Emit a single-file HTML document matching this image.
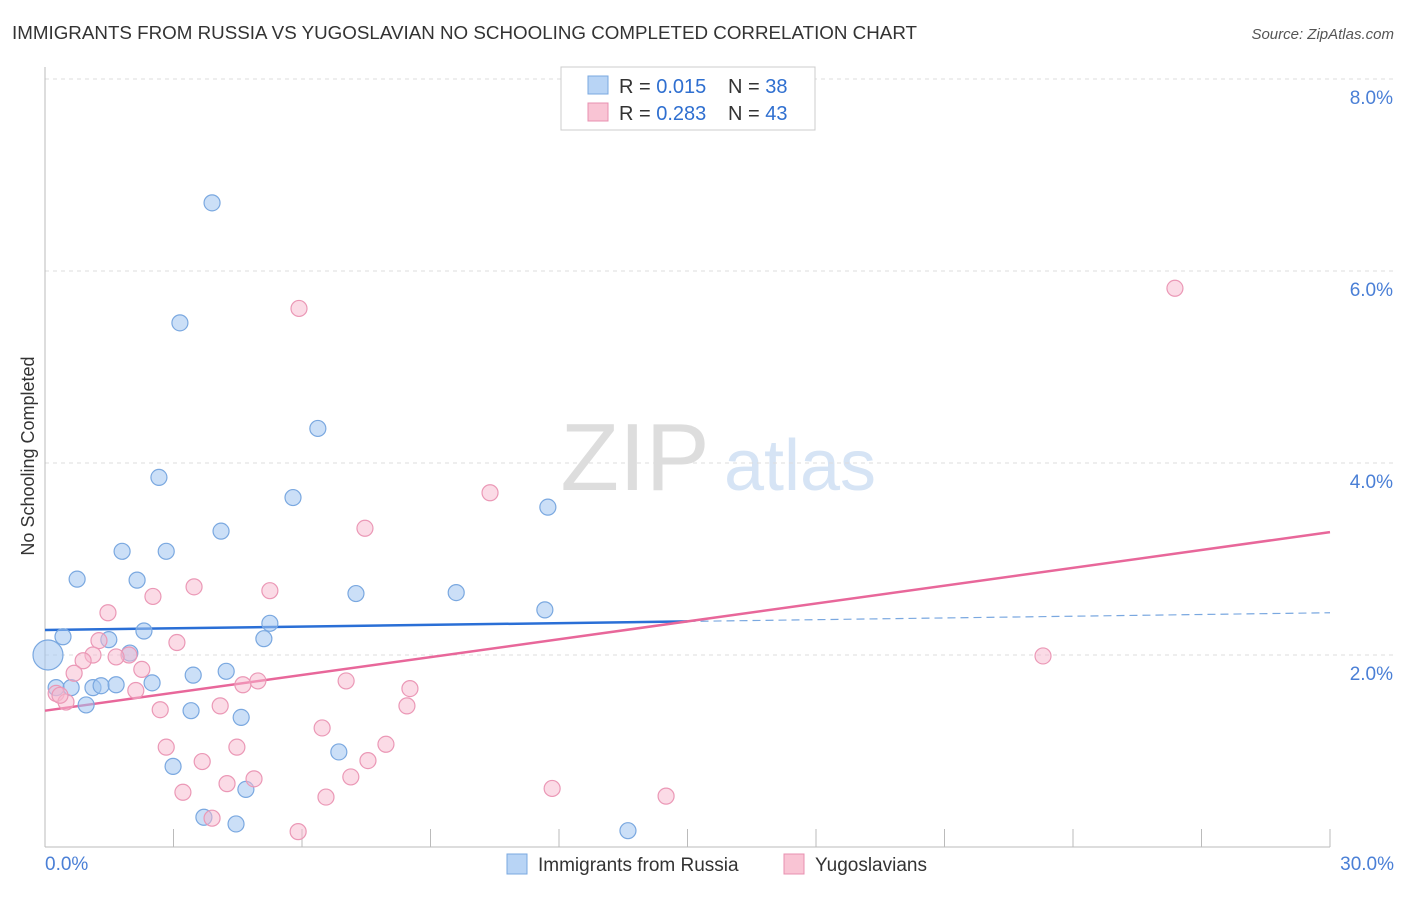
<!DOCTYPE html>
<html><head><meta charset="utf-8"><style>
body{margin:0;background:#fff;font-family:"Liberation Sans",sans-serif;}
svg text{font-family:"Liberation Sans",sans-serif;}
</style></head><body>
<svg id="chart" width="1406" height="892">
<text x="12" y="39" font-size="18" fill="#333" textLength="905" lengthAdjust="spacingAndGlyphs">IMMIGRANTS FROM RUSSIA VS YUGOSLAVIAN NO SCHOOLING COMPLETED CORRELATION CHART</text>
<text x="1394" y="39" font-size="15" fill="#555" font-style="italic" text-anchor="end">Source: ZipAtlas.com</text>
<text x="34" y="456" font-size="18" fill="#333" text-anchor="middle" transform="rotate(-90 34 456)">No Schooling Completed</text>
<g><text x="635" y="490" font-size="96" fill="#ddd" font-family="Liberation Serif" text-anchor="middle">ZIP</text><text x="800" y="490" font-size="72" fill="#d6e4f5" text-anchor="middle">atlas</text></g>
<g id="grid"></g><g id="axes"></g><g id="trend"></g><g id="pts"></g>
<g>
<rect x="561" y="67" width="254" height="63" fill="#fff" stroke="#ccc"/>
<rect x="588" y="76" width="20" height="18" fill="#b8d4f5" stroke="#7aa8e0"/>
<rect x="588" y="103" width="20" height="18" fill="#f9c4d4" stroke="#e890b0"/>
<text x="619" y="93" font-size="20" fill="#333">R = <tspan fill="#2f6fd0">0.015</tspan><tspan x="728">N = </tspan><tspan fill="#2f6fd0">38</tspan></text>
<text x="619" y="120" font-size="20" fill="#333">R = <tspan fill="#2f6fd0">0.283</tspan><tspan x="728">N = </tspan><tspan fill="#2f6fd0">43</tspan></text>
</g>
<g>
<rect x="507" y="854" width="20" height="20" fill="#b8d4f5" stroke="#7aa8e0"/>
<text x="538" y="871" font-size="19" fill="#333">Immigrants from Russia</text>
<rect x="784" y="854" width="20" height="20" fill="#f9c4d4" stroke="#e890b0"/>
<text x="815" y="871" font-size="19" fill="#333">Yugoslavians</text>
</g>
</svg>
<script>
const yTicks=[2,4,6,8];
const yTickLabels=["2.0%","4.0%","6.0%","8.0%"];
const xEndLabels=["0.0%","30.0%"];
const russiaX=[3.90,3.15,6.37,2.66,5.79,11.74,4.11,1.80,2.83,0.75,2.15,7.26,9.60,11.67,5.25,2.31,0.42,5.11,1.49,1.98,0.07,4.23,3.46,2.50,0.26,0.61,1.12,1.31,1.66,0.96,3.41,4.58,6.86,2.99,4.69,3.71,4.46,13.61];
const russiaY=[6.71,5.46,4.36,3.85,3.64,3.54,3.29,3.08,3.08,2.79,2.78,2.64,2.65,2.47,2.33,2.25,2.19,2.17,2.16,2.02,2.00,1.83,1.79,1.71,1.66,1.66,1.66,1.68,1.69,1.48,1.42,1.35,0.99,0.84,0.60,0.31,0.24,0.17];
const yugoX=[26.38,5.93,10.39,7.47,3.48,5.25,2.52,1.47,1.26,3.08,1.96,1.12,0.89,1.66,2.26,0.68,4.97,4.62,7.03,8.52,2.12,0.26,0.49,4.09,8.45,2.69,6.47,2.83,4.48,7.96,3.67,7.54,7.14,4.88,4.25,3.22,11.84,14.50,6.56,3.90,5.91,23.30,0.35];
const yugoY=[5.82,5.61,3.69,3.32,2.71,2.67,2.61,2.44,2.15,2.13,2.00,2.00,1.94,1.98,1.85,1.81,1.73,1.69,1.73,1.65,1.63,1.60,1.51,1.47,1.47,1.43,1.24,1.04,1.04,1.07,0.89,0.90,0.73,0.71,0.66,0.57,0.61,0.53,0.52,0.30,0.16,1.99,1.58];
const russiaTrend=[2.26,2.44];
const yugoTrend=[1.42,3.28];
const NS="http://www.w3.org/2000/svg";
const X=v=>45+v*(1285/30), Y=v=>847-v*96;
function mk(tag,attrs,parent){const e=document.createElementNS(NS,tag);for(const k in attrs)e.setAttribute(k,attrs[k]);document.getElementById(parent).appendChild(e);return e;}
yTicks.forEach((t,i)=>{
 const g=mk('line',{x1:45,x2:1395,y1:Y(t),y2:Y(t),stroke:'#ddd','stroke-dasharray':'4,4'},'grid');
 
 
 const l=mk('text',{x:1393,y:Y(t)+25,'font-size':19,fill:'#4a7fd6','text-anchor':'end'},'grid');
 l.textContent=yTickLabels[i];
 
 
});
const ya=mk('line',{x1:45,x2:45,y1:67,y2:847,stroke:'#bbb'},'axes');


const xa=mk('line',{x1:45,x2:1330,y1:847,y2:847,stroke:'#bbb'},'axes');


for(let i=1;i<=10;i++){const t=mk('line',{x1:X(i*3),x2:X(i*3),y1:829,y2:847,stroke:'#bbb'},'axes');
 
 }
[[0,'start',45],[30,'end',1394]].forEach((a,i)=>{const t=mk('text',{x:a[2],y:870,'font-size':19,fill:'#4a7fd6','text-anchor':a[1]},'axes');t.textContent=xEndLabels[i];
 
 });
const bx=15;
const b1=mk('line',{x1:X(0),y1:Y(russiaTrend[0]),x2:X(bx),y2:Y(russiaTrend[0]+(russiaTrend[1]-russiaTrend[0])*bx/30),stroke:'#2a6fd6','stroke-width':2.5},'trend');


const b2=mk('line',{x1:X(bx),y1:Y(russiaTrend[0]+(russiaTrend[1]-russiaTrend[0])*bx/30),x2:X(30),y2:Y(russiaTrend[1]),stroke:'#7aa8e0','stroke-width':1.2,'stroke-dasharray':'8,5'},'trend');


const p1=mk('line',{x1:X(0),y1:Y(yugoTrend[0]),x2:X(30),y2:Y(yugoTrend[1]),stroke:'#e8679a','stroke-width':2.5},'trend');


russiaX.forEach((x,i)=>{const c=mk('circle',{cx:X(x),cy:Y(russiaY[i]),r:i==20?15:8,fill:'rgba(160,196,240,0.55)',stroke:'#7aa8e0','stroke-width':1.2},'pts');
 
 });
yugoX.forEach((x,i)=>{const c=mk('circle',{cx:X(x),cy:Y(yugoY[i]),r:8,fill:'rgba(248,184,206,0.5)',stroke:'#eb98b6','stroke-width':1.2},'pts');
 
 });
</script>
</body></html>
